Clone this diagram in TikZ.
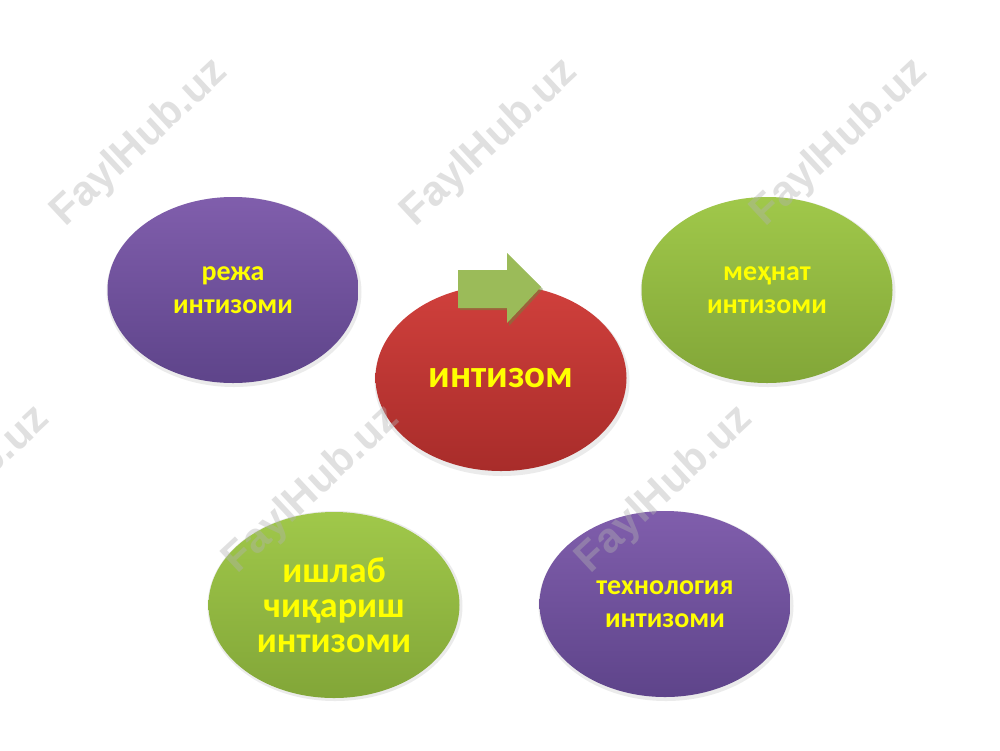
\documentclass[tikz,border=0pt]{standalone}
\usepackage{fontspec}
\setmainfont{Carlito}
\newfontfamily\wmfont{Liberation Sans}
\usetikzlibrary{shapes.geometric}
\definecolor{purpT}{RGB}{128,94,172}
\definecolor{purpB}{RGB}{94,68,138}
\definecolor{redT}{RGB}{208,64,60}
\definecolor{redB}{RGB}{168,44,42}
\definecolor{grnT}{RGB}{160,200,74}
\definecolor{grnB}{RGB}{130,166,56}
\definecolor{arrG}{RGB}{155,187,89}
\definecolor{arrS}{RGB}{110,135,60}
\definecolor{txtY}{RGB}{255,255,0}
\tikzset{
  blob/.style={ellipse, minimum width=251pt, minimum height=186pt, inner sep=0pt,
    align=center, text=txtY},
  small/.style={font=\bfseries\fontsize{28}{33}\selectfont},
  big/.style={font=\bfseries\fontsize{36}{35}\selectfont},
  huge/.style={font=\bfseries\fontsize{39}{44}\selectfont},
  purp/.style={blob, top color=purpT, bottom color=purpB},
  redb/.style={blob, top color=redT, bottom color=redB},
  grnb/.style={blob, top color=grnT, bottom color=grnB},
  shad/.style={ellipse, minimum width=255pt, minimum height=190pt, inner sep=0pt,
    fill=black, fill opacity=0.08},
  wm/.style={text=gray!60, text opacity=0.4, font=\wmfont\bfseries\fontsize{42}{42}\selectfont,
    rotate=43, inner sep=0pt}
}
\begin{document}
\begin{tikzpicture}[x=1pt,y=-1pt]
\useasboundingbox (0,0) rectangle (1000,750);
\fill[white] (0,0) rectangle (1000,750);
% soft shadows
\node[shad] (s1) at (234,292) {};
\node[shad] (s2) at (768,292) {};
\node[shad] (s4) at (335,606) {};
\node[shad] (s5) at (666,606) {};
\node[shad] (s3) at (502,381) {};
% ellipses
\node[purp, small] (reja) at (233,290) {режа\\ интизоми};
\node[grnb, small] (mehnat) at (767,290) {меҳнат\\ интизоми};
\node[redb, huge] (intizom) at (501,378) {интизом};
\node[grnb, big] (ishlab) at (334,605) {ишлаб\\ чиқариш\\ интизоми};
\node[purp, small] (texn) at (665,604) {технология\\ интизоми};
% arrow
\fill[arrS, opacity=0.5] (460,272) -- (509,272) -- (509,256) -- (543,289) -- (509,326) -- (509,310) -- (460,310) -- cycle;
\fill[arrG] (458,270) -- (507,270) -- (507,253) -- (541,287) -- (507,323) -- (507,308) -- (458,308) -- cycle;
% watermarks
\node[wm] (w1) at (140,143) {FaylHub.uz};
\node[wm] (w2) at (490,143) {FaylHub.uz};
\node[wm] (w3) at (840,143) {FaylHub.uz};
\node[wm] (w4) at (-38,490) {FaylHub.uz};
\node[wm] (w5) at (312,490) {FaylHub.uz};
\node[wm] (w6) at (665,490) {FaylHub.uz};
\end{tikzpicture}
\end{document}
